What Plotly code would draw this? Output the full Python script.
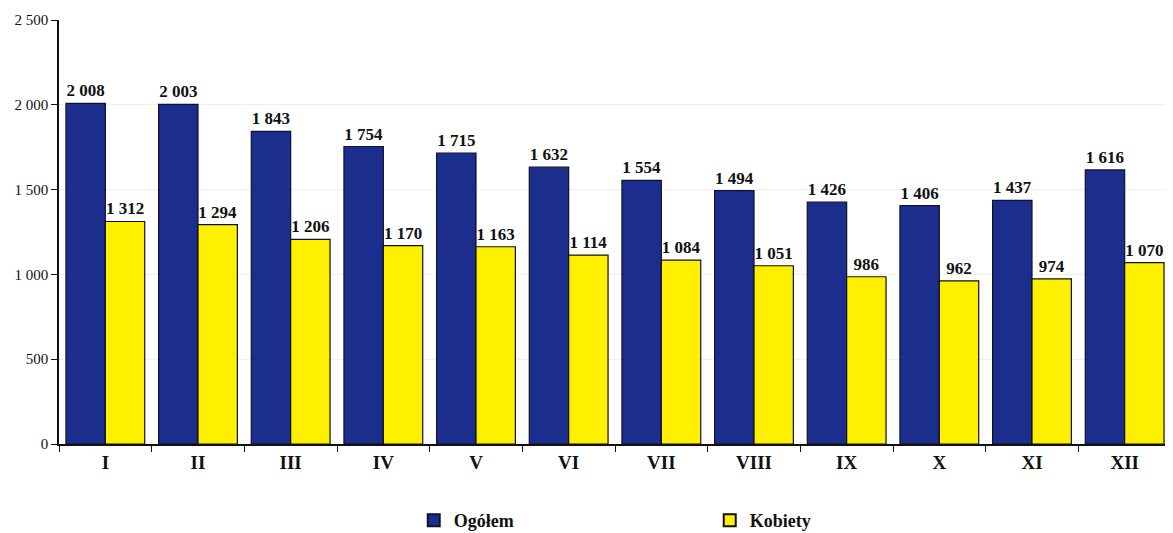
import plotly.graph_objects as go

months = ["I", "II", "III", "IV", "V", "VI", "VII", "VIII", "IX", "X", "XI", "XII"]
ogolem = [2008, 2003, 1843, 1754, 1715, 1632, 1554, 1494, 1426, 1406, 1437, 1616]
kobiety = [1312, 1294, 1206, 1170, 1163, 1114, 1084, 1051, 986, 962, 974, 1070]
y_ticks = [0, 500, 1000, 1500, 2000, 2500]

serif = "Liberation Serif, Times New Roman, serif"

fig = go.Figure()
fig.add_trace(go.Bar(
    x=months, y=ogolem, name="Ogółem",
    marker=dict(color="#1B2E8E", line=dict(color="#101030", width=1.2)),
    texttemplate="%{y:,}", textposition="outside", cliponaxis=False,
    constraintext="none",
    textfont=dict(family=serif, size=17, color="#111111", weight="bold"),
))
fig.add_trace(go.Bar(
    x=months, y=kobiety, name="Kobiety",
    marker=dict(color="#FFF000", line=dict(color="#101010", width=1.2)),
    texttemplate="%{y:,}", textposition="outside", cliponaxis=False,
    constraintext="none",
    textfont=dict(family=serif, size=17, color="#111111", weight="bold"),
))

fig.update_layout(
    width=1165, height=525,
    margin=dict(l=51, r=2, t=12, b=89, autoexpand=False),
    paper_bgcolor="white", plot_bgcolor="white",
    barmode="group", bargap=0.15, bargroupgap=0,
    separators=", ",
    font=dict(family=serif, color="#111111"),
    showlegend=True,
    legend=dict(
        orientation="h", x=0.319, xanchor="left", y=-0.137, yanchor="top",
        font=dict(family=serif, size=18, color="#111111", weight="bold"),
        entrywidth=251, entrywidthmode="pixels",
        itemsizing="constant",
    ),
)
fig.update_xaxes(
    showline=True, linecolor="#111111", linewidth=1.5,
    ticks="outside", tickson="boundaries", ticklen=6, tickcolor="#111111",
    tickfont=dict(family=serif, size=19, color="#111111", weight="bold"),
    showgrid=False,
)
fig.update_yaxes(
    range=[0, 2500], tickvals=y_ticks, tickformat=",",
    showline=True, linecolor="#111111", linewidth=1.5,
    ticks="outside", ticklen=6, tickcolor="#111111",
    tickfont=dict(family=serif, size=15, color="#111111"),
    showgrid=True, gridcolor="#EEEEEE", gridwidth=1,
    zeroline=False,
)

fig.write_html("out.html")
